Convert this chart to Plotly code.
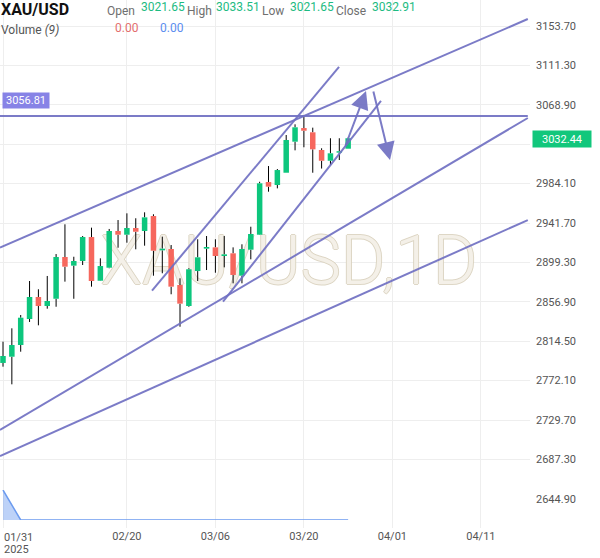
import plotly.graph_objects as go

# ---------------- data ----------------
dates = ["01/31", "02/03", "02/04", "02/05", "02/06", "02/07", "02/10", "02/11", "02/12", "02/13",
         "02/14", "02/17", "02/18", "02/19", "02/20", "02/21", "02/24", "02/25", "02/26", "02/27",
         "02/28", "03/03", "03/04", "03/05", "03/06", "03/07", "03/10", "03/11", "03/12", "03/13",
         "03/14", "03/17", "03/18", "03/19", "03/20", "03/21", "03/24", "03/25", "03/26", "03/27"]
opens = [2791.1, 2797.8, 2810.4, 2838.4, 2862.1, 2852.4, 2860.2, 2905.1, 2895.8, 2900.8,
         2926.6, 2879.6, 2893.6, 2933.1, 2929.1, 2936.3, 2933.1, 2949.2, 2912.3, 2913.7,
         2875.0, 2852.4, 2890.0, 2914.1, 2915.5, 2906.2, 2909.1, 2885.0, 2913.0, 2929.1,
         2985.8, 2982.6, 2995.8, 3029.2, 3043.9, 3039.3, 3020.3, 3008.7, 3017.4, 3021.65]
highs = [2814.0, 2828.4, 2842.7, 2879.3, 2870.4, 2884.7, 2908.3, 2940.3, 2905.4, 2927.7,
         2936.7, 2903.7, 2935.3, 2944.9, 2952.1, 2946.8, 2953.2, 2951.1, 2927.0, 2918.0,
         2882.2, 2893.0, 2924.2, 2927.7, 2924.2, 2927.7, 2915.5, 2918.8, 2937.7, 2986.1,
         3003.0, 2999.8, 3036.4, 3047.9, 3056.8, 3044.3, 3022.1, 3032.9, 3032.9, 3033.51]
lows = [2787.1, 2768.1, 2803.2, 2835.2, 2831.6, 2849.5, 2851.6, 2878.6, 2860.2, 2896.5,
        2873.2, 2879.3, 2893.0, 2915.1, 2920.5, 2913.4, 2917.3, 2885.0, 2887.6, 2865.0,
        2830.1, 2851.6, 2879.3, 2891.1, 2888.2, 2894.0, 2876.8, 2876.8, 2902.6, 2928.8,
        2975.4, 2979.0, 2995.8, 3019.9, 3023.2, 2995.8, 3000.3, 3004.1, 3009.5, 3021.65]
closes = [2798.6, 2810.4, 2839.8, 2862.1, 2852.4, 2857.8, 2905.1, 2894.7, 2900.8, 2926.6,
          2879.3, 2895.4, 2933.1, 2929.1, 2936.3, 2932.3, 2947.8, 2911.9, 2914.1, 2873.2,
          2854.9, 2891.9, 2904.8, 2915.9, 2906.2, 2908.0, 2885.8, 2913.7, 2929.9, 2984.4,
          2980.8, 2998.7, 3031.0, 3044.7, 3041.0, 3021.0, 3008.7, 3016.7, 3019.0, 3032.91]
volumes = [1.0, 0.5] + [0.0] * 38

x_tick_idx = [14, 24, 34, 44, 54]
x_tick_text = ["02/20", "03/06", "03/20", "04/01", "04/11"]
first_label = ["01/31", "2025"]
y_tick_vals = [2644.9, 2687.3, 2729.7, 2772.1, 2814.5, 2856.9, 2899.3, 2941.7, 2984.1,
               3026.5, 3068.9, 3111.3, 3153.7]
y_tick_text = ["2644.90", "2687.30", "2729.70", "2772.10", "2814.50", "2856.90", "2899.30",
               "2941.70", "2984.10", "", "3068.90", "3111.30", "3153.70"]

# drawn trend lines: (x0, y0, x1, y1) in bar index / price
trend_lines = [
    (-0.34, 2915.3, 59.3, 3161.2),
    (-0.34, 2691.0, 59.3, 2944.9),
    (-0.34, 2719.0, 59.3, 3054.7),
    (16.84, 2868.9, 37.97, 3109.6),
    (24.86, 2857.0, 42.71, 3073.0),
]
hline_price = 3056.81
arrows = [  # start -> tip
    (38.64, 3023.5, 41.02, 3083.8),
    (41.81, 3084.8, 43.73, 3009.5),
]
last_price = 3032.44
header = {"Open": "3021.65", "High": "3033.51", "Low": "3021.65", "Close": "3032.91"}
watermark = "XAU/USD,1D"

# ---------------- styling ----------------
UP = "#0DC67D"
DOWN = "#F6675D"
LINE = "rgba(112,112,194,0.92)"
GRID = "#EEEEEE"
W, H = 600, 558
ML, MR, MT, MB = 0, 70, 0, 30
PW, PH = W - ML - MR, H - MT - MB

def px_x(px):
    return px / PW

def px_y(py):
    return 1 - py / PH

idx = list(range(len(dates)))

fig = go.Figure()

# watermark (below everything)
fig.add_trace(go.Scatter(
    x=[32.3], y=[2894.5], mode="text", text=[watermark],
    textfont=dict(family="Roboto", size=68, weight=300, color="rgba(246,243,236,0.9)",
                  shadow="1px 0 0 #DAD3C0, -1px 0 0 #DAD3C0, 0 1px 0 #DAD3C0, 0 -1px 0 #DAD3C0"),
    hoverinfo="skip", showlegend=False))

# wicks (split above / below body)
wx, wy = [], []
for i, o, h, l, c in zip(idx, opens, highs, lows, closes):
    top, bot = max(o, c), min(o, c)
    wx += [i, i, None, i, i, None]
    wy += [h, top, None, bot, l, None]
fig.add_trace(go.Scatter(x=wx, y=wy, mode="lines", line=dict(color="#000000", width=1),
                         hoverinfo="skip", showlegend=False))

# bodies
for up, color in [(True, UP), (False, DOWN)]:
    bx, by = [], []
    for i, o, c in zip(idx, opens, closes):
        if (c >= o) != up:
            continue
        top, bot = max(o, c), min(o, c)
        if top - bot < 1.4:
            mid = (top + bot) / 2
            top, bot = mid + 0.7, mid - 0.7
        bx += [i, i, None]
        by += [bot, top, None]
    fig.add_trace(go.Scatter(x=bx, y=by, mode="lines", line=dict(color=color, width=5.5),
                             hoverinfo="skip", showlegend=False))

# trend lines
for x0, y0, x1, y1 in trend_lines:
    fig.add_trace(go.Scatter(x=[x0, x1], y=[y0, y1], mode="lines",
                             line=dict(color=LINE, width=2), hoverinfo="skip", showlegend=False))
fig.add_trace(go.Scatter(x=[-0.34, 59.3], y=[hline_price, hline_price], mode="lines",
                         line=dict(color=LINE, width=2), hoverinfo="skip", showlegend=False))

# volume
fig.add_trace(go.Scatter(x=idx, y=volumes, yaxis="y2", mode="lines", fill="tozeroy",
                         line=dict(color="#6C9BEF", width=1.5),
                         fillcolor="rgba(108,155,239,0.45)", hoverinfo="skip", showlegend=False))

ann = []
for x0, y0, x1, y1 in arrows:
    ann.append(dict(x=x1, y=y1, ax=x0, ay=y0, xref="x", yref="y", axref="x", ayref="y",
                    text="", showarrow=True, arrowhead=2, arrowsize=1.8, arrowwidth=2,
                    arrowcolor=LINE))

FONT = "Roboto"
# header
ann.append(dict(xref="paper", yref="paper", x=px_x(-1), y=px_y(9), xanchor="left", yanchor="middle",
                text="<b>XAU/USD</b>", showarrow=False, font=dict(family=FONT, size=16, color="#111111")))
label_pos = [(105, 139), (185, 214), (260, 288), (334, 370)]
for (k, v), (lx, vx) in zip(header.items(), label_pos):
    ann.append(dict(xref="paper", yref="paper", x=px_x(lx), y=px_y(10.5), xanchor="left",
                    yanchor="middle", text=k, showarrow=False,
                    font=dict(family=FONT, size=12, color="#6F6F6F")))
    ann.append(dict(xref="paper", yref="paper", x=px_x(vx), y=px_y(7), xanchor="left",
                    yanchor="middle", text=v, showarrow=False,
                    font=dict(family=FONT, size=12, color="#1DBB82")))
ann.append(dict(xref="paper", yref="paper", x=px_x(-1), y=px_y(30.5), xanchor="left", yanchor="middle",
                text="Volume <i>(9)</i>", showarrow=False, font=dict(family=FONT, size=12, color="#555555")))
ann.append(dict(xref="paper", yref="paper", x=px_x(113), y=px_y(28.5), xanchor="left", yanchor="middle",
                text="0.00", showarrow=False, font=dict(family=FONT, size=12, color="#E36E6E")))
ann.append(dict(xref="paper", yref="paper", x=px_x(158), y=px_y(28.5), xanchor="left", yanchor="middle",
                text="0.00", showarrow=False, font=dict(family=FONT, size=12, color="#5B8DEF")))

# price tags
ann.append(dict(xref="paper", yref="y", x=px_x(2), y=hline_price, yshift=16, xanchor="left",
                yanchor="middle", text="3056.81", showarrow=False, bgcolor="#8783E6",
                borderpad=1, width=44, height=13,
                font=dict(family=FONT, size=11, color="#FFFFFF")))
ann.append(dict(xref="paper", yref="y", x=1, xshift=2, y=last_price, xanchor="left",
                yanchor="middle", text="3032.44", showarrow=False, bgcolor="#12C77C",
                borderpad=1, width=56, height=14,
                font=dict(family=FONT, size=11, color="#FFFFFF")))

# first x label (left aligned at the chart edge)
ann.append(dict(xref="paper", yref="paper", x=px_x(2), y=px_y(537), xanchor="left", yanchor="middle",
                text=first_label[0], showarrow=False, font=dict(family=FONT, size=11, color="#555555")))
ann.append(dict(xref="paper", yref="paper", x=px_x(2), y=px_y(549), xanchor="left", yanchor="middle",
                text=first_label[1], showarrow=False, font=dict(family=FONT, size=11, color="#555555")))

x_lo = -3 / 8.85
x_hi = (PW - 3) / 8.85
y_lo = 3181.68 - 1.0761 * PH
y_hi = 3181.68

fig.update_layout(
    width=W, height=H, margin=dict(l=ML, r=MR, t=MT, b=MB),
    paper_bgcolor="white", plot_bgcolor="white", showlegend=False,
    font=dict(family=FONT, size=11, color="#555555"),
    xaxis=dict(range=[x_lo, x_hi], tickmode="array", tickvals=[0] + x_tick_idx,
               ticktext=[""] + x_tick_text, showgrid=True, gridcolor=GRID, gridwidth=1,
               zeroline=False, showline=False, ticks="", tickfont=dict(size=11, color="#555555")),
    yaxis=dict(range=[y_lo, y_hi], side="right", tickmode="array", tickvals=y_tick_vals,
               ticktext=y_tick_text, showgrid=True, gridcolor=GRID, gridwidth=1, zeroline=False,
               showline=False, ticks="", ticklabelstandoff=5,
               tickfont=dict(size=11, color="#555555")),
    yaxis2=dict(domain=[8 / PH, 38 / PH], range=[0, 1], anchor="x", showgrid=False,
                zeroline=False, showticklabels=False, ticks=""),
    annotations=ann,
)

fig.write_html("out.html")
